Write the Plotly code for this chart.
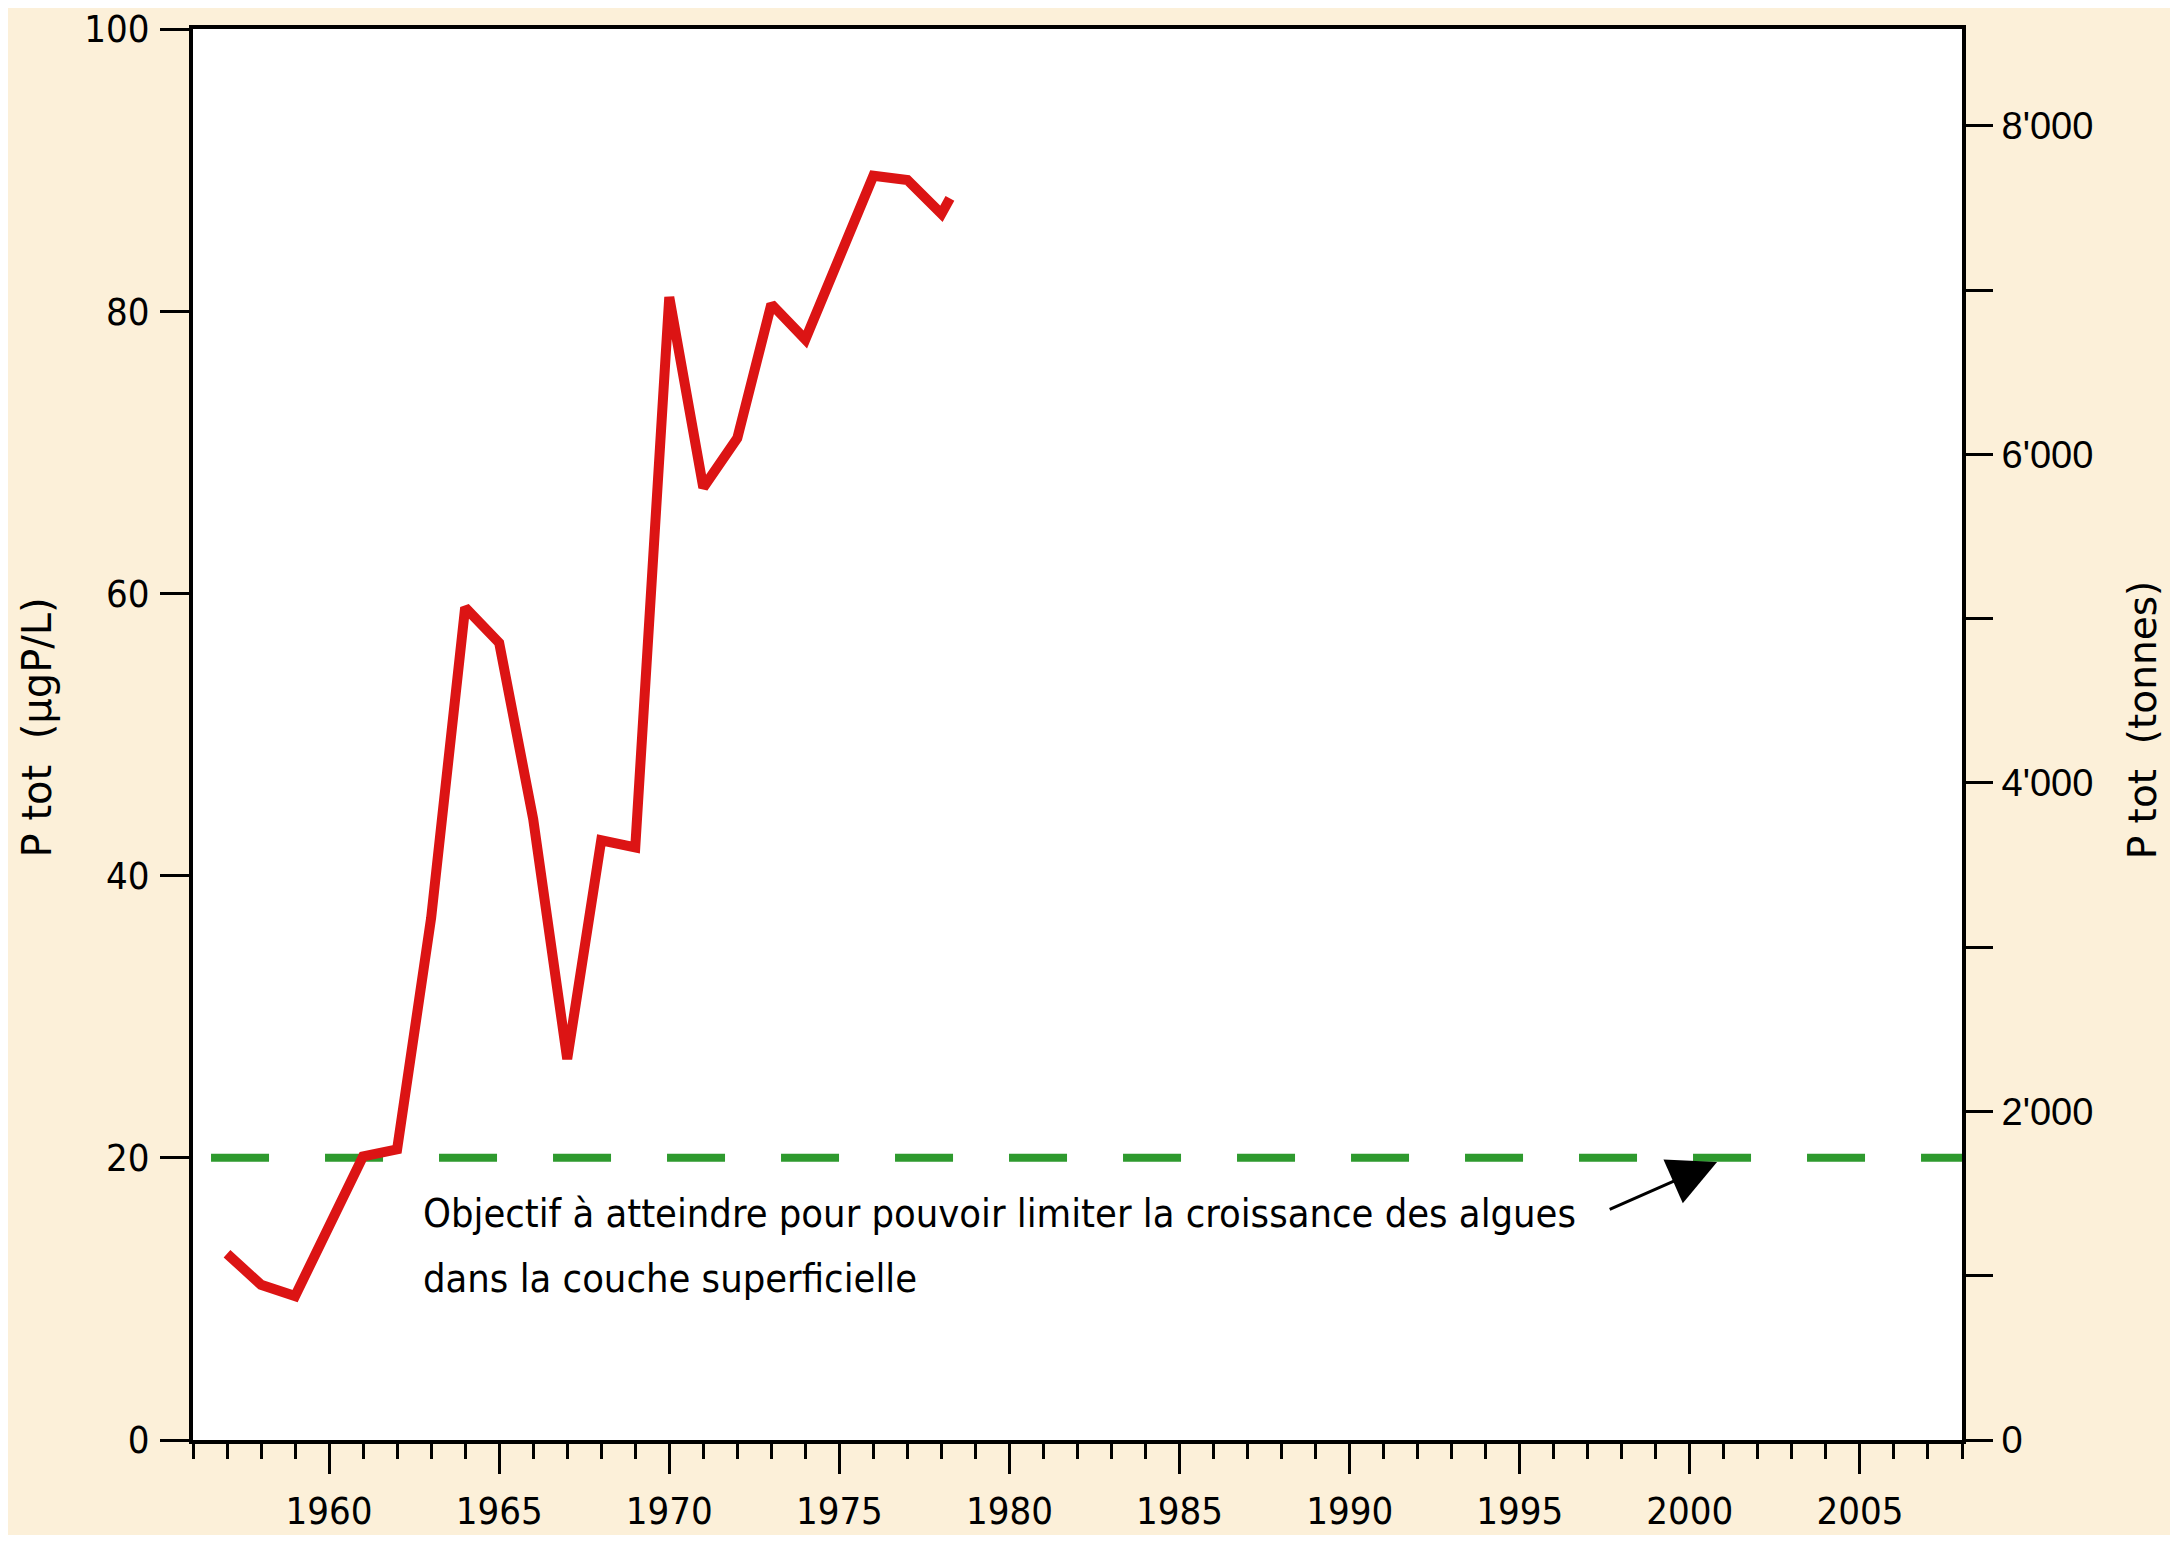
import plotly.graph_objects as go

# Total phosphorus, µgP/L
years = [1957, 1958, 1959, 1960, 1961, 1962, 1963, 1964, 1965, 1966, 1967, 1968,
         1969, 1970, 1971, 1972, 1973, 1974, 1975, 1976, 1977, 1978, 1978.25]
ptot = [13.2, 11.0, 10.2, 15.0, 20.1, 20.6, 37.0, 59.0, 56.5, 44.0, 27.0, 42.5,
        42.0, 81.0, 67.5, 71.0, 80.5, 78.0, 83.7, 89.6, 89.3, 86.9, 88.0]

# target level
goal_years = [1956.53, 2008]
goal_values = [20, 20]

left_ticks = [0, 20, 40, 60, 80, 100]
right_ticks = [0, 2000, 4000, 6000, 8000]
right_labels = ["0", "2'000", "4'000", "6'000", "8'000"]
year_ticks = [1960, 1965, 1970, 1975, 1980, 1985, 1990, 1995, 2000, 2005]

NARROW = "Liberation Sans Narrow, DejaVu Sans Condensed, Arial Narrow, sans-serif"
WIDE = "DejaVu Sans, Verdana, sans-serif"
ARIAL = "Liberation Sans, Arial, sans-serif"

fig = go.Figure()
fig.add_trace(go.Scatter(
    x=goal_years, y=goal_values, mode="lines",
    line={"color": "#2e9a2e", "width": 8, "dash": "58px,56px"},
    hoverinfo="skip", showlegend=False,
))
fig.add_trace(go.Scatter(
    x=years, y=ptot, mode="lines",
    line={"color": "#dc1414", "width": 10},
    showlegend=False,
))
# empty trace so the right-hand axis is drawn
fig.add_trace(go.Scatter(x=[], y=[], yaxis="y2", showlegend=False))

# the page body adds 8px all round, so the figure is 16px smaller than the window
fig.update_layout(
    width=2162,
    height=1527,
    paper_bgcolor="#fcf0d9",
    plot_bgcolor="#ffffff",
    margin={"l": 185, "r": 208, "t": 21, "b": 95},
    xaxis={
        "range": [1956, 2008],
        "tickvals": year_ticks,
        "ticks": "outside", "ticklen": 30, "tickwidth": 3, "tickcolor": "#000",
        "minor": {"dtick": 1, "tick0": 1956, "ticks": "outside", "ticklen": 15,
                  "tickwidth": 3, "tickcolor": "#000"},
        "showline": True, "linecolor": "#000", "linewidth": 4, "mirror": True,
        "showgrid": False, "zeroline": False, "automargin": False,
        "tickfont": {"family": NARROW, "size": 38, "color": "#000"},
        "ticklabelstandoff": 4, "ticklabeloverflow": "allow",
    },
    yaxis={
        "range": [0, 100],
        "tickvals": left_ticks,
        "ticks": "outside", "ticklen": 29, "tickwidth": 3, "tickcolor": "#000",
        "showline": True, "linecolor": "#000", "linewidth": 4,
        "showgrid": False, "zeroline": False, "automargin": False,
        "tickfont": {"family": NARROW, "size": 38, "color": "#000"},
        "ticklabelstandoff": 3, "ticklabeloverflow": "allow",
    },
    yaxis2={
        "range": [0, 8590],
        "overlaying": "y", "side": "right", "anchor": "x",
        "tickvals": right_ticks, "ticktext": right_labels,
        "ticks": "outside", "ticklen": 27, "tickwidth": 3, "tickcolor": "#000",
        "minor": {"dtick": 1000, "ticks": "outside", "ticklen": 27,
                  "tickwidth": 3, "tickcolor": "#000"},
        "showline": True, "linecolor": "#000", "linewidth": 4,
        "showgrid": False, "zeroline": False, "automargin": False,
        "tickfont": {"family": ARIAL, "size": 38, "color": "#000"},
        "ticklabelstandoff": 1, "ticklabeloverflow": "allow",
    },
)

# axis titles
fig.add_annotation(text="P tot  (µgP/L)", xref="paper", yref="paper",
                   x=-0.0882, y=0.505, xanchor="center", yanchor="middle",
                   textangle=-90, showarrow=False,
                   font={"family": WIDE, "size": 40, "color": "#000"})
fig.add_annotation(text="P tot  (tonnes)", xref="paper", yref="paper",
                   x=1.1017, y=0.51, xanchor="center", yanchor="middle",
                   textangle=-90, showarrow=False,
                   font={"family": WIDE, "size": 39, "color": "#000"})

# note on the target
fig.add_annotation(text="Objectif à atteindre pour pouvoir limiter la croissance des algues",
                   x=1962.7, y=16.1, xanchor="left", showarrow=False,
                   font={"family": NARROW, "size": 39.5, "color": "#000"})
fig.add_annotation(text="dans la couche superficielle",
                   x=1962.7, y=11.5, xanchor="left", showarrow=False,
                   font={"family": NARROW, "size": 39.5, "color": "#000"})
fig.add_annotation(x=2000.8, y=19.7, ax=1997.6, ay=16.3,
                   xref="x", yref="y", axref="x", ayref="y", text="",
                   showarrow=True, arrowhead=2, arrowsize=3.2, arrowwidth=3,
                   arrowcolor="#000")

fig.write_html("out.html")
